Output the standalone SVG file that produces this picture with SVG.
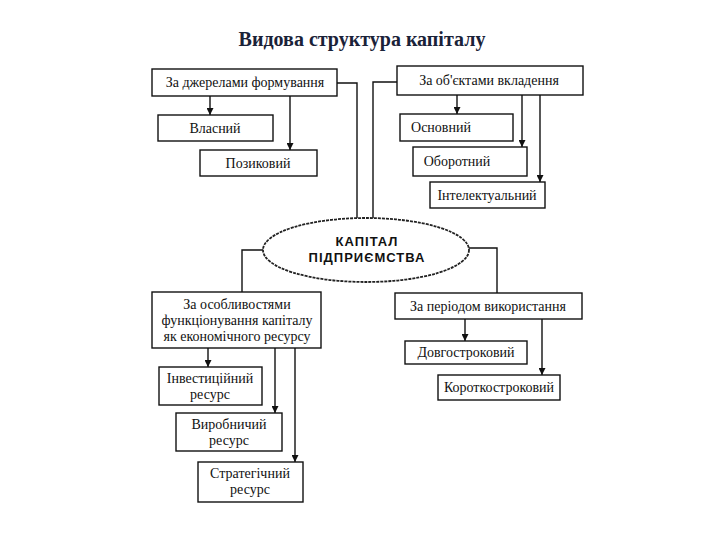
<svg xmlns="http://www.w3.org/2000/svg" width="720" height="540" viewBox="0 0 720 540">
<defs>
<marker id="ah" viewBox="0 0 10 10" refX="10" refY="5" markerWidth="7" markerHeight="7" markerUnits="userSpaceOnUse" orient="auto">
<path d="M0,0 L10,5 L0,10 Z" fill="#111"/>
</marker>
<style>
.box{fill:#fff;stroke:#111;stroke-width:1.4}
.t{font-family:"Liberation Serif","Times New Roman",serif;font-size:14px;fill:#111;text-anchor:middle}
.c{fill:none;stroke:#111;stroke-width:1.4}
.a{fill:none;stroke:#111;stroke-width:1.4;marker-end:url(#ah)}
.e{font-family:"Liberation Sans",Arial,sans-serif;font-size:13px;font-weight:bold;fill:#111;text-anchor:middle;letter-spacing:1px}
</style>
</defs>
<rect width="720" height="540" fill="#fff"/>
<text x="362" y="46" style="font-family:'Liberation Serif','Times New Roman',serif;font-size:20px;font-weight:bold;fill:#1a2238;text-anchor:middle">Видова структура капіталу</text>

<g id="connectors">
<polyline class="c" points="337,83 357,83 357,218"/>
<polyline class="c" points="397,82 373,82 373,218"/>
<line class="a" x1="210" y1="96" x2="210" y2="115"/>
<line class="a" x1="290" y1="96" x2="290" y2="150"/>
<line class="a" x1="457" y1="95" x2="457" y2="114"/>
<line class="a" x1="522" y1="95" x2="522" y2="147"/>
<line class="a" x1="540" y1="95" x2="540" y2="182"/>
<polyline class="c" points="264,250 242,250 242,292"/>
<polyline class="c" points="469,248 497,248 497,293"/>
<line class="a" x1="208" y1="348" x2="208" y2="367"/>
<line class="a" x1="275" y1="348" x2="275" y2="413"/>
<line class="a" x1="295" y1="348" x2="295" y2="462"/>
<line class="a" x1="465" y1="319" x2="465" y2="341"/>
<line class="a" x1="542" y1="319" x2="542" y2="375"/>
</g>

<g id="n-sources">
<rect class="box" x="152" y="69" width="185" height="27"/>
<text class="t" x="245" y="87">За джерелами формування</text>
</g>
<g id="n-vlasnyi">
<rect class="box" x="158" y="115" width="115" height="26"/>
<text class="t" x="215" y="133">Власний</text>
</g>
<g id="n-pozykovyi">
<rect class="box" x="200" y="150" width="117" height="26"/>
<text class="t" x="258" y="168">Позиковий</text>
</g>

<g id="n-objects">
<rect class="box" x="397" y="66" width="186" height="29"/>
<text class="t" x="489" y="85">За об'єктами вкладення</text>
</g>
<g id="n-osnovnyi">
<rect class="box" x="400" y="114" width="113" height="27"/>
<text class="t" x="441" y="132">Основний</text>
</g>
<g id="n-oborotnyi">
<rect class="box" x="413" y="147" width="114" height="29"/>
<text class="t" x="457" y="166">Оборотний</text>
</g>
<g id="n-intel">
<rect class="box" x="430" y="182" width="115" height="26"/>
<text class="t" x="487" y="200">Інтелектуальний</text>
</g>

<g id="n-capital">
<ellipse cx="366" cy="250" rx="103" ry="32" fill="#fff" stroke="#222" stroke-width="1.8" stroke-dasharray="3 1"/>
<text class="e" x="367" y="246">КАПІТАЛ</text>
<text class="e" x="367" y="262">ПІДПРИЄМСТВА</text>
</g>

<g id="n-features">
<rect class="box" x="152" y="292" width="169" height="56"/>
<text class="t" x="237" y="309">За особливостями</text>
<text class="t" x="237" y="325">функціонування капіталу</text>
<text class="t" x="237" y="341">як економічного ресурсу</text>
</g>
<g id="n-invest">
<rect class="box" x="159" y="367" width="103" height="38"/>
<text class="t" x="210" y="383">Інвестиційний</text>
<text class="t" x="210" y="399">ресурс</text>
</g>
<g id="n-vyrob">
<rect class="box" x="176" y="413" width="106" height="38"/>
<text class="t" x="229" y="429">Виробничий</text>
<text class="t" x="229" y="445">ресурс</text>
</g>
<g id="n-strat">
<rect class="box" x="198" y="462" width="105" height="40"/>
<text class="t" x="250" y="478">Стратегічний</text>
<text class="t" x="250" y="494">ресурс</text>
</g>

<g id="n-period">
<rect class="box" x="395" y="293" width="187" height="26"/>
<text class="t" x="488" y="311">За періодом використання</text>
</g>
<g id="n-long">
<rect class="box" x="405" y="341" width="122" height="23"/>
<text class="t" x="466" y="357">Довгостроковий</text>
</g>
<g id="n-short">
<rect class="box" x="438" y="375" width="122" height="25"/>
<text class="t" x="499" y="392">Короткостроковий</text>
</g>
</svg>
